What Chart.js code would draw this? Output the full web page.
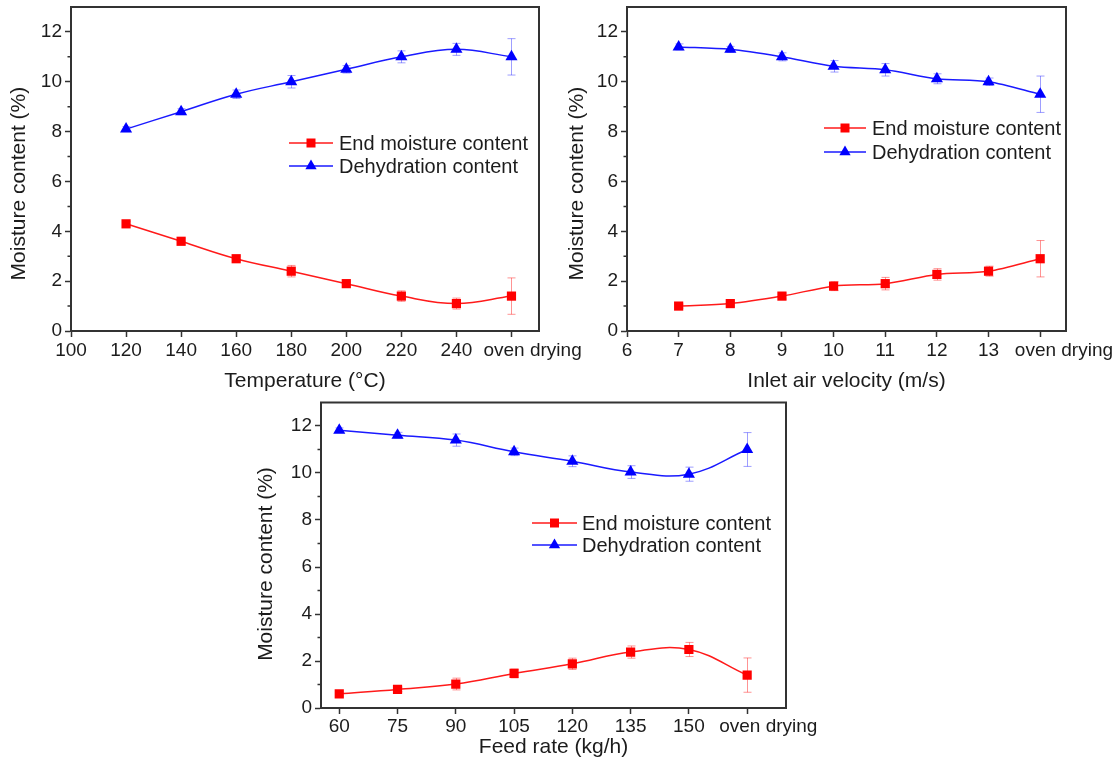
<!DOCTYPE html>
<html>
<head>
<meta charset="utf-8">
<script src="https://cdn.jsdelivr.net/npm/chart.js@4.4.0/dist/chart.umd.min.js"></script>
<style>
html,body{margin:0;padding:0;background:#fff;overflow:hidden;width:1119px;height:761px;}
canvas{position:absolute;display:block;}
</style>
</head>
<body>
<canvas id="c1" width="600" height="395" style="left:0px;top:0px"></canvas>
<canvas id="c2" width="559" height="395" style="left:560px;top:0px"></canvas>
<canvas id="c3" width="600" height="366" style="left:240px;top:395px"></canvas>
<script>
// ---------------- DATA ----------------
const seriesNames = ['End moisture content', 'Dehydration content'];
const ovenLabel = 'oven drying';
const yTitle = 'Moisture content (%)';
const yMajorStep = 2;
const yMinorTicks = [1, 3, 5, 7, 9, 11];

// (a) Temperature
const tempTitle = 'Temperature (°C)';
const tempX = [120, 140, 160, 180, 200, 220, 240, 260]; // 260 = oven drying
const tempOven = 260;
const tempEnd = [4.3, 3.6, 2.9, 2.4, 1.9, 1.4, 1.1, 1.4];
const tempEndErr = [0.1, 0.1, 0.1, 0.23, 0.1, 0.21, 0.22, 0.73];
const tempDeh = [8.1, 8.8, 9.5, 10.0, 10.5, 11.0, 11.3, 11.0];
const tempDehErr = [0.1, 0.12, 0.17, 0.25, 0.15, 0.24, 0.24, 0.73];

// (b) Inlet air velocity
const velTitle = 'Inlet air velocity (m/s)';
const velX = [7, 8, 9, 10, 11, 12, 13, 14]; // 14 = oven drying
const velOven = 14;
const velEnd = [1.0, 1.1, 1.4, 1.8, 1.9, 2.27, 2.4, 2.9];
const velEndErr = [0.08, 0.1, 0.12, 0.18, 0.25, 0.23, 0.2, 0.73];
const velDeh = [11.4, 11.3, 11.0, 10.62, 10.48, 10.12, 10.0, 9.5];
const velDehErr = [0.12, 0.12, 0.16, 0.23, 0.25, 0.2, 0.15, 0.73];

// (c) Feed rate
const feedTitle = 'Feed rate (kg/h)';
const feedX = [60, 75, 90, 105, 120, 135, 150, 165]; // 165 = oven drying
const feedOven = 165;
const feedEnd = [0.6, 0.79, 1.02, 1.47, 1.88, 2.38, 2.49, 1.4];
const feedEndErr = [0.08, 0.1, 0.25, 0.19, 0.24, 0.26, 0.3, 0.73];
const feedDeh = [11.82, 11.61, 11.4, 10.9, 10.5, 10.04, 9.95, 11.0];
const feedDehErr = [0.1, 0.12, 0.26, 0.16, 0.23, 0.27, 0.3, 0.72];

// ---------------- STYLE / PLUGINS ----------------
const FONT = "'Liberation Sans', Arial, Helvetica, sans-serif";
const TXT = '#1c1c1c';
const AX = '#333333';
Chart.defaults.font.family = FONT;
Chart.defaults.color = TXT;

const framePlugin = {
  id: 'frame',
  afterDraw(chart) {
    const {ctx, chartArea: a} = chart;
    const ys = chart.scales.y;
    ctx.save();
    ctx.strokeStyle = AX;
    ctx.lineWidth = 2;
    ctx.beginPath();
    ctx.moveTo(a.left - 1, a.top);
    ctx.lineTo(a.right, a.top);
    ctx.lineTo(a.right, a.bottom + 1);
    ctx.stroke();
    ctx.lineWidth = 1.5;
    ctx.beginPath();
    yMinorTicks.forEach(v => {
      const py = ys.getPixelForValue(v);
      ctx.moveTo(a.left, py);
      ctx.lineTo(a.left - 3.5, py);
    });
    ctx.stroke();
    ctx.restore();
  }
};

const errorPlugin = {
  id: 'errorBars',
  beforeDatasetsDraw(chart) {
    const {ctx, scales: {x, y}} = chart;
    chart.data.datasets.forEach(ds => {
      if (!ds.errors) return;
      ctx.save();
      ctx.strokeStyle = ds.errorColor;
      ctx.lineWidth = 1;
      ds.data.forEach((p, i) => {
        const e = ds.errors[i];
        const px = Math.round(x.getPixelForValue(p.x)) + 0.5;
        const t = y.getPixelForValue(p.y + e);
        const b = y.getPixelForValue(p.y - e);
        ctx.beginPath();
        ctx.moveTo(px, t); ctx.lineTo(px, b);
        ctx.moveTo(px - 4, t); ctx.lineTo(px + 4, t);
        ctx.moveTo(px - 4, b); ctx.lineTo(px + 4, b);
        ctx.stroke();
      });
      ctx.restore();
    });
  }
};

const legendPlugin = {
  id: 'inLegend',
  afterDatasetsDraw(chart, args, o) {
    const {ctx} = chart;
    chart.data.datasets.forEach((ds, i) => {
      const y = o.y + i * o.dy;
      const mx = (o.x0 + o.x1) / 2;
      ctx.save();
      ctx.strokeStyle = ds.borderColor;
      ctx.lineWidth = 1.5;
      ctx.beginPath();
      ctx.moveTo(o.x0, y); ctx.lineTo(o.x1, y);
      ctx.stroke();
      ctx.fillStyle = ds.backgroundColor;
      ctx.beginPath();
      if (ds.pointStyle === 'rect') {
        ctx.rect(mx - 4.5, y - 4.5, 9, 9);
      } else {
        const r = 6.5;
        ctx.moveTo(mx, y - r);
        ctx.lineTo(mx + r * 0.866, y + r / 2);
        ctx.lineTo(mx - r * 0.866, y + r / 2);
        ctx.closePath();
      }
      ctx.fill();
      ctx.fillStyle = TXT;
      ctx.font = '20px ' + FONT;
      ctx.textBaseline = 'middle';
      ctx.textAlign = 'left';
      ctx.fillText(ds.label, o.tx, y + 1);
      ctx.restore();
    });
  }
};

function pts(xs, ys) { return xs.map((x, i) => ({x: x, y: ys[i]})); }

function makeChart(id, cfg) {
  const pad = '\u00a0'.repeat(cfg.ovenPad);
  return new Chart(document.getElementById(id), {
    type: 'line',
    data: {
      datasets: [
        {
          label: seriesNames[0], data: pts(cfg.xs, cfg.end), errors: cfg.endErr,
          borderColor: '#ff1a1a', backgroundColor: '#ff0000', errorColor: 'rgba(255,40,40,0.5)',
          pointStyle: 'rect', pointRadius: 6.5, pointBorderWidth: 0, borderWidth: 1.5, tension: cfg.tension
        },
        {
          label: seriesNames[1], data: pts(cfg.xs, cfg.deh), errors: cfg.dehErr,
          borderColor: '#1a1aff', backgroundColor: '#0000ff', errorColor: 'rgba(40,40,255,0.45)',
          pointStyle: 'triangle', pointRadius: 7, pointBorderWidth: 0, borderWidth: 1.5, tension: cfg.tension
        }
      ]
    },
    options: {
      responsive: false,
      animation: false,
      devicePixelRatio: 1,
      layout: {padding: cfg.padding},
      plugins: {
        legend: {display: false},
        tooltip: {enabled: false},
        inLegend: cfg.legend
      },
      scales: {
        x: {
          type: 'linear', min: cfg.xmin, max: cfg.xmax,
          border: {display: true, color: AX, width: 2},
          grid: {drawOnChartArea: false, drawTicks: true, tickLength: 6, tickWidth: 1.5, tickColor: AX},
          ticks: {
            stepSize: cfg.step, includeBounds: false, autoSkip: false, maxRotation: 0, minRotation: 0,
            padding: cfg.xTickPad, color: TXT, font: {size: 19, lineHeight: 1.2},
            callback: v => (v === cfg.oven ? pad + ovenLabel : String(v))
          },
          title: {display: true, text: cfg.xTitle, color: TXT, font: {size: 21, lineHeight: 1.2}, padding: {top: 0, bottom: 1.4}},
          afterFit: s => { s.height = cfg.xAxisH; s.paddingLeft = 0; s.paddingRight = 0; }
        },
        y: {
          type: 'linear', min: 0, max: 13,
          border: {display: true, color: AX, width: 2},
          grid: {drawOnChartArea: false, drawTicks: true, tickLength: 6, tickWidth: 1.5, tickColor: AX},
          ticks: {stepSize: yMajorStep, includeBounds: false, padding: 3, color: TXT, font: {size: 19, lineHeight: 1.2}},
          title: {display: true, text: yTitle + '\u00a0'.repeat(cfg.yTitleShift), color: TXT, font: {size: 21, lineHeight: 1.2}, padding: {top: cfg.yTitlePad, bottom: 0}},
          afterFit: s => { s.width = cfg.yAxisW; s.paddingTop = 0; s.paddingBottom = 0; }
        }
      }
    },
    plugins: [errorPlugin, framePlugin, legendPlugin]
  });
}

makeChart('c1', {
  xs: tempX, end: tempEnd, endErr: tempEndErr, deh: tempDeh, dehErr: tempDehErr,
  xmin: 100, xmax: 270, step: 20, oven: tempOven, ovenPad: 8, xTitle: tempTitle, tension: 0.4,
  padding: {left: 0, top: 6, right: 61, bottom: 0}, xAxisH: 64, yAxisW: 71,
  xTickPad: 2, yTitlePad: 7, yTitleShift: 5,
  legend: {x0: 289, x1: 333, tx: 339, y: 143, dy: 23}
});

makeChart('c2', {
  xs: velX, end: velEnd, endErr: velEndErr, deh: velDeh, dehErr: velDehErr,
  xmin: 6, xmax: 14.5, step: 1, oven: velOven, ovenPad: 9, xTitle: velTitle, tension: 0.3,
  padding: {left: 0, top: 6, right: 53, bottom: 0}, xAxisH: 64, yAxisW: 67,
  xTickPad: 2, yTitlePad: 4.4, yTitleShift: 5,
  legend: {x0: 264, x1: 306, tx: 312, y: 128, dy: 24}
});

makeChart('c3', {
  xs: feedX, end: feedEnd, endErr: feedEndErr, deh: feedDeh, dehErr: feedDehErr,
  xmin: 55.3, xmax: 175, step: 15, oven: feedOven, ovenPad: 8, xTitle: feedTitle, tension: 0.4,
  padding: {left: 0, top: 7.5, right: 54, bottom: 0}, xAxisH: 53, yAxisW: 81,
  xTickPad: 1.5, yTitlePad: 13.4, yTitleShift: 3,
  legend: {x0: 292, x1: 337, tx: 342, y: 128, dy: 22}
});
</script>
</body>
</html>
